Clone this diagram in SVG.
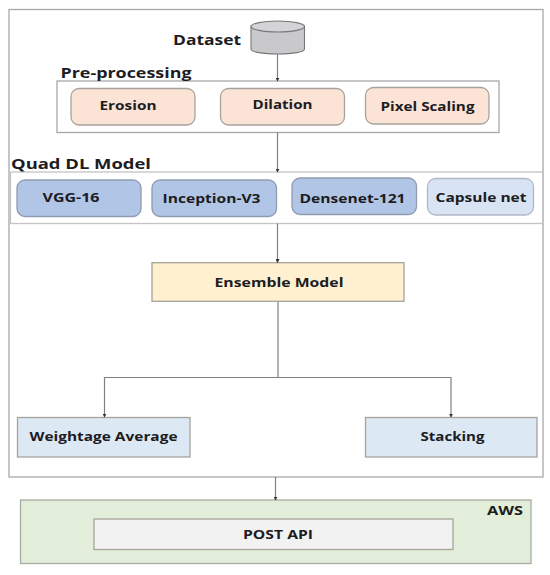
<svg xmlns="http://www.w3.org/2000/svg" width="550" height="575" viewBox="0 0 550 575">
<style>
text{font-family:"Open Sans","Liberation Sans",sans-serif;font-weight:700;fill:#1c1c22;font-size:13px;text-anchor:middle}
.h{font-size:14px}
.frame{fill:none;stroke:#a8a8a8;stroke-width:1.3}
.r{stroke:#a6a39c;stroke-width:1.3}
.peach{fill:#fbe3d5}
.blue{fill:#b1c6e6;stroke:#8f9bb0}
.pale{fill:#d8e3f3;stroke:#b0b8c8}
.lb{fill:#dde8f5}
.c{fill:none;stroke:#808080;stroke-width:1.2;marker-end:url(#a)}
.n{fill:none;stroke:#808080;stroke-width:1.2}
</style>
<defs><marker id="a" markerWidth="4" markerHeight="4" refX="3.4" refY="2" orient="auto" markerUnits="userSpaceOnUse"><path d="M0 0L4 2L0 4z" fill="#333"/></marker></defs>
<rect width="550" height="575" fill="#fff"/>
<g id="outer"><rect class="frame" x="9" y="9.5" width="534" height="467.5"/></g>
<g id="aws"><rect x="20.5" y="500" width="510.5" height="63.5" fill="#e2eed9" stroke="#a9ada4" stroke-width="1.3"/><text x="505" y="515" textLength="36" lengthAdjust="spacingAndGlyphs">AWS</text></g>
<g id="post-api"><rect class="r" x="94" y="519" width="359" height="30.5" fill="#f2f2f2"/><text x="278" y="539" textLength="70" lengthAdjust="spacingAndGlyphs">POST API</text></g>
<g id="dataset">
<path d="M251 26V49C251 52 263 54 278 54S304.5 52 304.5 49V26Z" fill="#c9c9cb" stroke="#77777a" stroke-width="1.1"/>
<ellipse cx="277.8" cy="26.500" rx="26.700" ry="5.500" fill="#d4d4d6" stroke="#77777a" stroke-width="1.1"/>
<text class="h" x="207" y="44.5" textLength="68" lengthAdjust="spacingAndGlyphs">Dataset</text></g>
<g id="preprocessing"><rect class="frame" x="57" y="81" width="442" height="51.5"/><text class="h" x="126" y="78" textLength="131" lengthAdjust="spacingAndGlyphs">Pre-processing</text></g>
<g id="erosion"><rect class="r peach" x="71" y="88.5" width="124" height="36.5" rx="8"/><text x="128" y="110" textLength="57" lengthAdjust="spacingAndGlyphs">Erosion</text></g>
<g id="dilation"><rect class="r peach" x="220.5" y="88.5" width="124" height="36.5" rx="8"/><text x="282.5" y="109" textLength="60" lengthAdjust="spacingAndGlyphs">Dilation</text></g>
<g id="pixel-scaling"><rect class="r peach" x="365.5" y="87.5" width="123.5" height="36.5" rx="8"/><text x="427.5" y="111" textLength="94" lengthAdjust="spacingAndGlyphs">Pixel Scaling</text></g>
<g id="quad"><rect class="frame" x="10.5" y="172" width="532.5" height="51.5" style="stroke:#c4c4c4"/><text class="h" x="81" y="169" textLength="140" lengthAdjust="spacingAndGlyphs">Quad DL Model</text></g>
<g id="vgg16"><rect class="r blue" x="17" y="180" width="124" height="36.5" rx="8"/><text x="71" y="202" textLength="57" lengthAdjust="spacingAndGlyphs">VGG-16</text></g>
<g id="inception"><rect class="r blue" x="152" y="180" width="124.5" height="36.5" rx="8"/><text x="211.5" y="202.5" textLength="98" lengthAdjust="spacingAndGlyphs">Inception-V3</text></g>
<g id="densenet"><rect class="r blue" x="292" y="178" width="124.5" height="36.5" rx="8"/><text x="352.5" y="202.5" textLength="106" lengthAdjust="spacingAndGlyphs">Densenet-121</text></g>
<g id="capsule"><rect class="r pale" x="427.5" y="178.5" width="106" height="36.5" rx="8"/><text x="481" y="201.5" textLength="91" lengthAdjust="spacingAndGlyphs">Capsule net</text></g>
<g id="ensemble"><rect class="r" x="152" y="262.7" width="252" height="38.6" fill="#fff1cf"/><text x="279" y="287" textLength="129" lengthAdjust="spacingAndGlyphs">Ensemble Model</text></g>
<g id="weightage"><rect class="r lb" x="17.5" y="417.5" width="172.5" height="39.5"/><text x="103.5" y="441" textLength="148" lengthAdjust="spacingAndGlyphs">Weightage Average</text></g>
<g id="stacking"><rect class="r lb" x="365.5" y="417.5" width="171.5" height="39.5"/><text x="452.500" y="441" textLength="64" lengthAdjust="spacingAndGlyphs">Stacking</text></g>
<g id="connectors">
<path class="c" d="M277.5 54V81"/>
<path class="c" d="M277.5 132.500V172"/>
<path class="c" d="M277.500 223.500V262.500"/>
<path class="n" d="M278 301.500V377.500"/>
<path class="c" d="M278 377.500H104.500V417"/>
<path class="c" d="M278 377.500H451V417"/>
<path class="c" d="M275.500 477V500"/>
</g>
</svg>
